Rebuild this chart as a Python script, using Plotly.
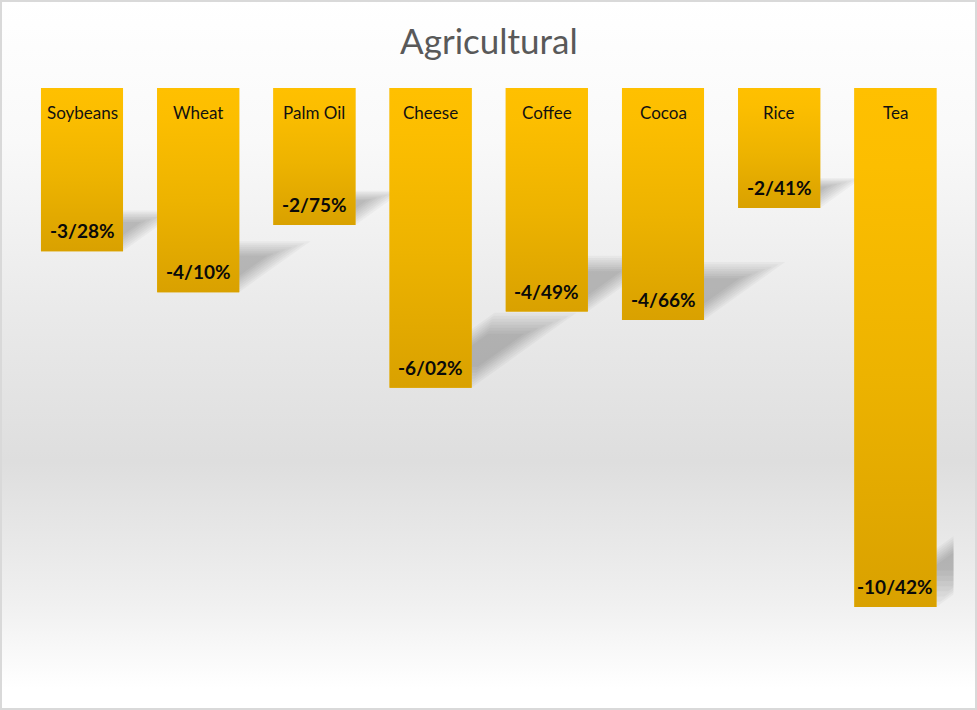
import plotly.graph_objects as go

categories = ["Soybeans", "Wheat", "Palm Oil", "Cheese", "Coffee", "Cocoa", "Rice", "Tea"]
values = [-3.28, -4.10, -2.75, -6.02, -4.49, -4.66, -2.41, -10.42]
value_labels = ["-3/28%", "-4/10%", "-2/75%", "-6/02%", "-4/49%", "-4/66%", "-2/41%", "-10/42%"]
title_text = "Agricultural"

W, H = 977, 710
font_family = "Lato, 'Open Sans', sans-serif"
BAR_W = 0.706
half = BAR_W / 2
X_DOM = [23.9 / W, 953.5 / W]
Y_DOM = [1 - 660.7 / H, 1 - 88 / H]
Y_RANGE = [-11.5, 0]
X_RANGE = [-0.5, len(categories) - 0.5]

fig = go.Figure()

# background gradient (decorative, full-page hidden subplot)
fig.add_trace(go.Scatter(
    x=[0, 1, 1, 0, 0], y=[0, 0, 1, 1, 0],
    mode="lines", line=dict(width=0), fill="toself",
    fillgradient=dict(type="vertical", colorscale=[
        [0.0, "#ffffff"], [0.03, "#ffffff"], [0.15, "#f0f0f0"], [0.35, "#dedede"],
        [0.55, "#e9e9e9"], [0.8, "#f9f9f9"], [1.0, "#ffffff"]]),
    hoverinfo="skip", showlegend=False, xaxis="x", yaxis="y"))

# soft perspective shadows (x2/y2), derived from the bar values
K_X, K_Y = 0.15, 0.25
SCALES = [1.0, 0.92, 0.84, 0.76, 0.68, 0.6, 0.52, 0.44]
for i, v in enumerate(values):
    L = abs(v)
    x0, x1 = i - half, i + half
    pts = [(x0, v), (x1, v), (x1 + K_X * L, v + K_Y * L), (x0 + K_X * L, v + K_Y * L)]
    cx = sum(p[0] for p in pts) / 4
    cy = sum(p[1] for p in pts) / 4
    for s in SCALES:
        xs = [cx + (p[0] - cx) * s for p in pts] + [cx + (pts[0][0] - cx) * s]
        ys = [cy + (p[1] - cy) * s for p in pts] + [cy + (pts[0][1] - cy) * s]
        fig.add_trace(go.Scatter(
            x=xs, y=ys, mode="lines", line=dict(width=0), fill="toself",
            fillcolor="rgba(0,0,0,0.03)", hoverinfo="skip", showlegend=False,
            xaxis="x2", yaxis="y2"))

# the bars (x3/y3)
fig.add_trace(go.Bar(
    x=categories, y=values,
    marker=dict(color="#ECB300", line=dict(width=0)),
    text=value_labels, textposition="none",
    hovertemplate="%{x}: %{text}<extra></extra>",
    showlegend=False, xaxis="x3", yaxis="y3"))

# vertical gradient fill on each bar (x4/y4, same geometry)
for i, v in enumerate(values):
    fig.add_trace(go.Scatter(
        x=[i - half, i + half, i + half, i - half, i - half],
        y=[0, 0, v, v, 0],
        mode="lines", line=dict(width=0), fill="toself",
        fillgradient=dict(type="vertical", colorscale=[
            [0.0, "#D9A100"], [0.45, "#EDB300"], [0.85, "#FCBE00"], [1.0, "#FFC000"]]),
        hoverinfo="skip", showlegend=False, xaxis="x4", yaxis="y4"))

annotations = []
for c, v, lbl in zip(categories, values, value_labels):
    annotations.append(dict(x=c, y=0, xref="x3", yref="y3", text=c, showarrow=False,
                            yanchor="top", yshift=-12,
                            font=dict(family=font_family, size=17, color="#111111")))
    annotations.append(dict(x=c, y=v, xref="x3", yref="y3", text="<b>" + lbl + "</b>",
                            showarrow=False, yanchor="bottom", yshift=7,
                            font=dict(family=font_family, size=19, color="#0a0a0a")))
annotations.append(dict(x=0.5, y=1 - 39.5 / H, xref="paper", yref="paper", text=title_text,
                        showarrow=False, yanchor="middle",
                        font=dict(family=font_family, size=35, color="#595959")))

lin = dict(domain=X_DOM, range=X_RANGE, visible=False, fixedrange=True)
yl = dict(domain=Y_DOM, range=Y_RANGE, visible=False, fixedrange=True)

fig.update_layout(
    width=W, height=H,
    margin=dict(l=0, r=0, t=0, b=0),
    paper_bgcolor="#ffffff", plot_bgcolor="rgba(0,0,0,0)",
    xaxis=dict(domain=[0, 1], range=[0, 1], visible=False, fixedrange=True),
    yaxis=dict(domain=[0, 1], range=[0, 1], visible=False, fixedrange=True),
    xaxis2=dict(lin, anchor="y2"), yaxis2=dict(yl, anchor="x2"),
    xaxis3=dict(domain=X_DOM, visible=False, anchor="y3", type="category",
                categoryorder="array", categoryarray=categories, fixedrange=True),
    yaxis3=dict(yl, anchor="x3"),
    xaxis4=dict(lin, anchor="y4"), yaxis4=dict(yl, anchor="x4"),
    bargap=1 - BAR_W,
    annotations=annotations,
    shapes=[dict(type="rect", xref="paper", yref="paper", x0=0, y0=0, x1=1, y1=1,
                 line=dict(color="#d9d9d9", width=4), fillcolor="rgba(0,0,0,0)")],
)

fig.write_html("out.html", config={"displayModeBar": False},
               post_script="document.body.style.margin='0';document.body.style.overflow='hidden';")
